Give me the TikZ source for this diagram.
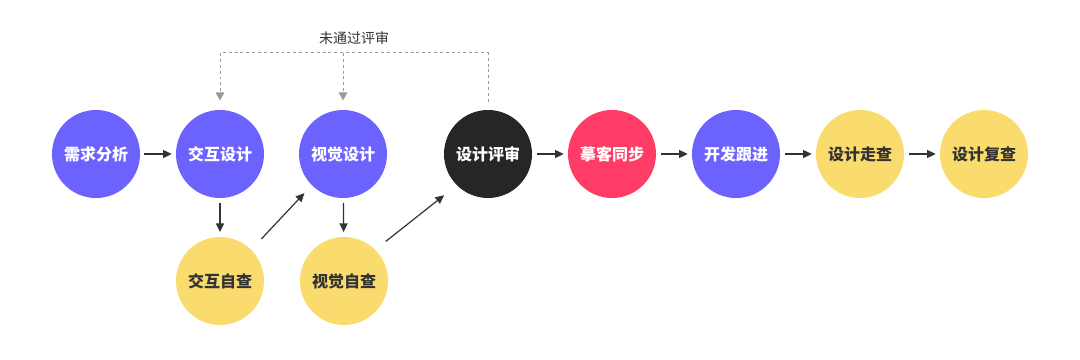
\documentclass[tikz,border=0pt]{standalone}
\usepackage{fontspec}
\setmainfont{Noto Sans CJK SC}
\usetikzlibrary{arrows.meta}
\definecolor{cpurple}{HTML}{6C63FF}
\definecolor{cred}{HTML}{FF3C65}
\definecolor{cblack}{HTML}{262626}
\definecolor{cyellow}{HTML}{FADB6E}
\definecolor{ctext}{HTML}{333333}
\definecolor{cgray}{HTML}{9A9A9A}
\begin{document}
\begin{tikzpicture}[x=0.75pt,y=-0.75pt,
  stage/.style={circle,minimum size=66pt,inner sep=0pt,font=\fontsize{12pt}{14pt}\selectfont\bfseries},
  pst/.style={stage,fill=cpurple,text=white},
  rst/.style={stage,fill=cred,text=white},
  bst/.style={stage,fill=cblack,text=white},
  yst/.style={stage,fill=cyellow,text=ctext},
  flow/.style={draw=ctext,line width=0.9pt,-{Triangle[length=6.5pt,width=6pt]}},
  fb/.style={draw=cgray,line width=0.75pt,dash pattern=on 2.2pt off 2.2pt,-{Triangle[length=6pt,width=6.5pt]}},
  lbl/.style={font=\fontsize{10.5pt}{12pt}\selectfont,text=ctext}]
\useasboundingbox (0,0) rectangle (1080,360);
\node[pst] (xq) at (96,154) {需求分析};
\node[pst] (jh) at (220,154) {交互设计};
\node[pst] (vs) at (343,154) {视觉设计};
\node[bst] (ps) at (488,154) {设计评审};
\node[rst] (mk) at (612,154) {摹客同步};
\node[pst] (kf) at (736,154) {开发跟进};
\node[yst] (zc) at (860,154) {设计走查};
\node[yst] (fc) at (984,154) {设计复查};
\node[yst] (jz) at (220,281) {交互自查};
\node[yst] (vz) at (344,281) {视觉自查};
\coordinate (loopy) at (354,53);
% main flow
\draw[flow,shorten <=3pt,shorten >=3pt] (xq) -- (jh);
\draw[flow,shorten <=3.5pt,shorten >=3pt] (ps) -- (mk);
\draw[flow,shorten <=3.5pt,shorten >=3pt] (mk) -- (kf);
\draw[flow,shorten <=3.5pt,shorten >=3pt] (kf) -- (zc);
\draw[flow,shorten <=3.5pt,shorten >=3pt] (zc) -- (fc);
\draw[flow,shorten <=3.5pt,shorten >=3.5pt] (jh) -- (jz);
\draw[flow,shorten <=3.5pt,shorten >=3.5pt] (vs) -- (vz);
\draw[flow,shorten <=11pt,shorten >=8pt] (jz.45) -- (vs.225);
\draw[flow,shorten <=10pt,shorten >=12pt] (vz.45) -- (ps.225);
% feedback loop
\draw[fb,shorten <=6pt,shorten >=7pt] (ps.north) |- (jh.north |- loopy) -- (jh.north);
\draw[fb,shorten >=7pt] (vs.north |- loopy) -- (vs.north);
\node[lbl] (lab) at (354,38) {未通过评审};
\end{tikzpicture}
\end{document}
